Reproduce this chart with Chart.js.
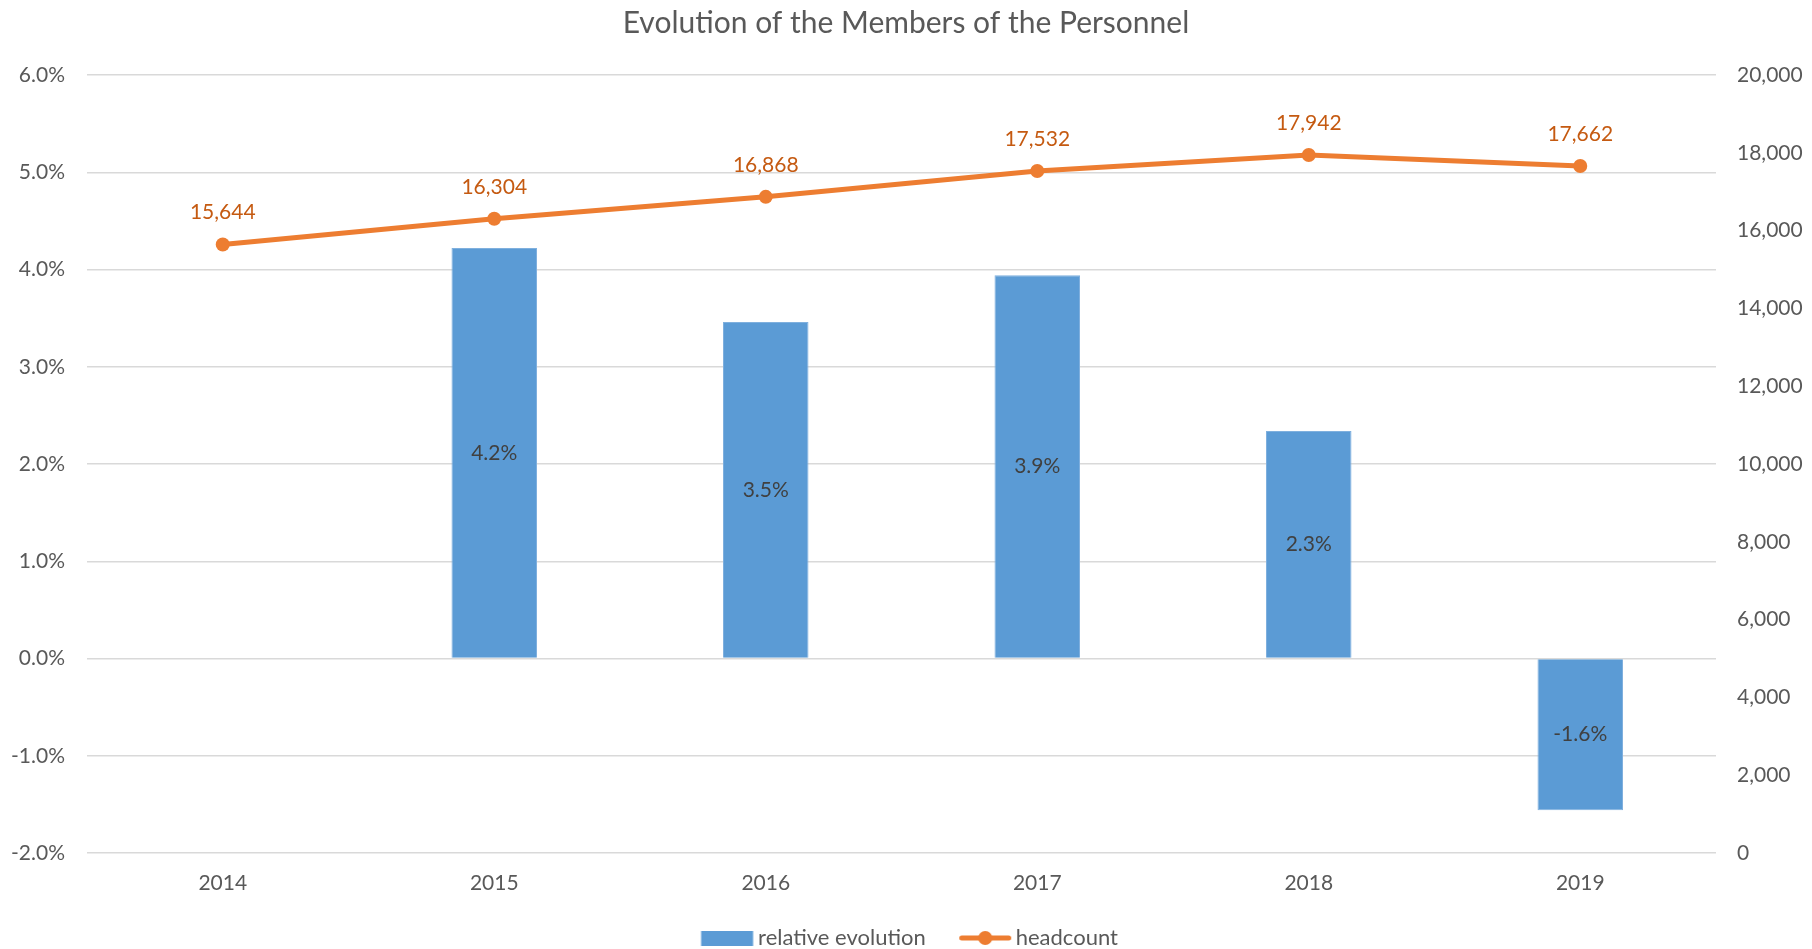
<!DOCTYPE html>
<html>
<head>
<meta charset="utf-8">
<script src="https://cdn.jsdelivr.net/npm/chart.js@4.4.1/dist/chart.umd.min.js"></script>
<style>
  html, body { margin: 0; padding: 0; background: #ffffff; }
  #wrap { width: 1812px; height: 949px; position: relative; }
</style>
</head>
<body>
<div id="wrap"><canvas id="c" width="1812" height="949"></canvas></div>
<script>
const years = ['2014', '2015', '2016', '2017', '2018', '2019'];
const relativeEvolution = [null, 4.22, 3.46, 3.94, 2.34, -1.56];
const headcount = [15644, 16304, 16868, 17532, 17942, 17662];
const leftTicks = { min: -2, max: 6, step: 1 };
const rightTicks = { min: 0, max: 20000, step: 2000 };
const seriesNames = ['relative evolution', 'headcount'];
const titleText = 'Evolution of the Members of the Personnel';

const FONT = 'Lato, "Open Sans", sans-serif';
const BLUE = '#5B9BD5';
const ORANGE = '#ED7D31';
const LABEL_ORANGE = '#C55A11';
const GREY = '#595959';

// legend icon canvases (drawn centred by Chart.js at x + pointStyleWidth/2)
const ICON_W = 160, ICON_H = 20, ICON_OFF = 60.5;
function makeBarIcon() {
  const c = document.createElement('canvas');
  c.width = ICON_W; c.height = ICON_H;
  const g = c.getContext('2d');
  g.fillStyle = BLUE;
  g.fillRect(ICON_OFF, 3, 52, 15);
  return c;
}
function makeLineIcon() {
  const c = document.createElement('canvas');
  c.width = ICON_W; c.height = ICON_H;
  const g = c.getContext('2d');
  g.strokeStyle = ORANGE;
  g.lineWidth = 5;
  g.lineCap = 'round';
  g.beginPath(); g.moveTo(ICON_OFF + 3, 10); g.lineTo(ICON_OFF + 50, 10); g.stroke();
  g.fillStyle = ORANGE;
  g.beginPath(); g.arc(ICON_OFF + 26.5, 10, 7, 0, Math.PI * 2); g.fill();
  return c;
}
const barIcon = makeBarIcon();
const lineIcon = makeLineIcon();

const valueLabels = {
  id: 'valueLabels',
  afterDatasetsDraw(chart) {
    const ctx = chart.ctx;
    ctx.save();
    ctx.font = '21px ' + FONT;
    ctx.textAlign = 'center';
    ctx.textBaseline = 'middle';
    const barMeta = chart.getDatasetMeta(0);
    barMeta.data.forEach((el, i) => {
      const v = relativeEvolution[i];
      if (v === null || v === undefined) return;
      ctx.fillStyle = '#404040';
      ctx.fillText(v.toFixed(1) + '%', el.x, (el.y + el.base) / 2);
    });
    const lineMeta = chart.getDatasetMeta(1);
    lineMeta.data.forEach((el, i) => {
      ctx.fillStyle = LABEL_ORANGE;
      ctx.fillText(headcount[i].toLocaleString('en-US'), el.x, el.y - 32);
    });
    ctx.restore();
  }
};

new Chart(document.getElementById('c'), {
  type: 'bar',
  data: {
    labels: years,
    datasets: [
      {
        type: 'bar',
        label: seriesNames[0],
        data: relativeEvolution,
        backgroundColor: BLUE,
        borderColor: '#7FB0DE',
        borderWidth: 1,
        yAxisID: 'y',
        categoryPercentage: 0.35,
        barPercentage: 0.9,
        order: 2
      },
      {
        type: 'line',
        label: seriesNames[1],
        data: headcount,
        borderColor: ORANGE,
        backgroundColor: ORANGE,
        borderWidth: 5,
        pointRadius: 7,
        pointHoverRadius: 7,
        pointBackgroundColor: ORANGE,
        pointBorderWidth: 0,
        tension: 0,
        yAxisID: 'y2',
        order: 1
      }
    ]
  },
  options: {
    responsive: false,
    animation: false,
    devicePixelRatio: 1,
    layout: { padding: { left: 0, right: 0, top: 0, bottom: -10 } },
    plugins: {
      tooltip: { enabled: false },
      title: {
        display: true,
        text: titleText,
        color: GREY,
        font: { family: FONT, size: 30, weight: 'normal', lineHeight: 1.2 },
        padding: { top: 5, bottom: 34 }
      },
      legend: {
        display: true,
        position: 'bottom',
        labels: {
          usePointStyle: true,
          pointStyleWidth: 53,
          boxHeight: 16,
          padding: 26,
          color: GREY,
          font: { family: FONT, size: 22 },
          generateLabels() {
            return [
              { text: seriesNames[0], pointStyle: barIcon, fillStyle: BLUE, strokeStyle: 'rgba(0,0,0,0)', lineWidth: 0, hidden: false, datasetIndex: 0, fontColor: GREY },
              { text: seriesNames[1], pointStyle: lineIcon, fillStyle: ORANGE, strokeStyle: 'rgba(0,0,0,0)', lineWidth: 0, hidden: false, datasetIndex: 1, fontColor: GREY }
            ];
          }
        }
      }
    },
    scales: {
      x: {
        offset: true,
        grid: { display: false },
        border: { display: false },
        ticks: { color: GREY, font: { family: FONT, size: 21 }, padding: 10 },
        afterFit(scale) { scale.height = 48; }
      },
      y: {
        position: 'left',
        min: leftTicks.min,
        max: leftTicks.max,
        border: { display: false },
        grid: { color: '#D9D9D9', lineWidth: 1.5, drawTicks: false },
        ticks: {
          stepSize: leftTicks.step,
          color: GREY,
          font: { family: FONT, size: 21 },
          padding: 22,
          callback: v => v.toFixed(1) + '%'
        },
        afterFit(scale) { scale.width = 87; }
      },
      y2: {
        position: 'right',
        min: rightTicks.min,
        max: rightTicks.max,
        border: { display: false },
        grid: { display: false, drawTicks: false },
        ticks: {
          stepSize: rightTicks.step,
          color: GREY,
          font: { family: FONT, size: 21 },
          padding: 21,
          callback: v => v.toLocaleString('en-US')
        },
        afterFit(scale) { scale.width = 96; }
      }
    }
  },
  plugins: [valueLabels]
});
</script>
</body>
</html>
